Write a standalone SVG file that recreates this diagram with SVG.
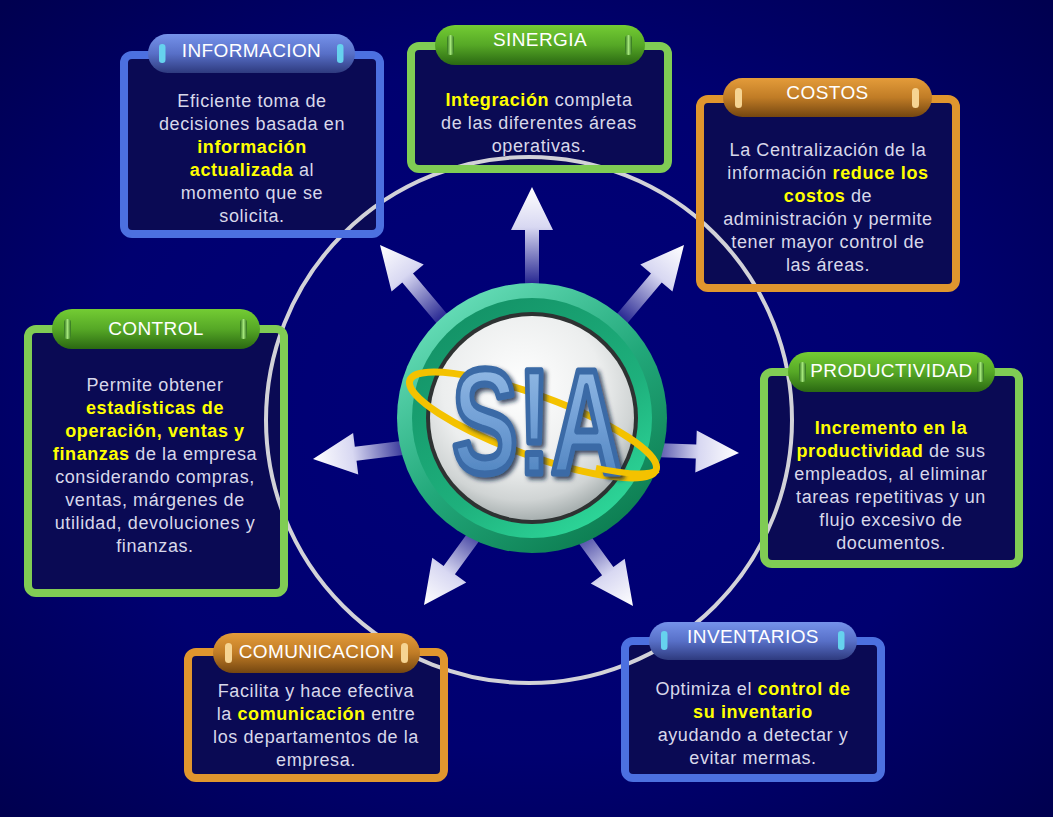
<svg xmlns="http://www.w3.org/2000/svg" width="1053" height="817" viewBox="0 0 1053 817">
<defs>
<radialGradient id="bg" cx="50%" cy="50%" r="70%">
<stop offset="0" stop-color="#00007a"/>
<stop offset="0.6" stop-color="#000070"/>
<stop offset="1" stop-color="#000050"/>
</radialGradient>
<linearGradient id="arrowG" x1="0" y1="0" x2="0" y2="1">
<stop offset="0" stop-color="#ffffff"/>
<stop offset="0.4" stop-color="#d8d8f2"/>
<stop offset="1" stop-color="#1c1c8c"/>
</linearGradient>
<linearGradient id="pillBlue" x1="0" y1="0" x2="0" y2="1">
<stop offset="0" stop-color="#7592ea"/>
<stop offset="0.5" stop-color="#5870c8"/>
<stop offset="1" stop-color="#2e3a7e"/>
</linearGradient>
<linearGradient id="pillGreen" x1="0" y1="0" x2="0" y2="1">
<stop offset="0" stop-color="#74cc34"/>
<stop offset="0.5" stop-color="#56a826"/>
<stop offset="1" stop-color="#2a6812"/>
</linearGradient>
<linearGradient id="pillOrange" x1="0" y1="0" x2="0" y2="1">
<stop offset="0" stop-color="#e49c3a"/>
<stop offset="0.5" stop-color="#c07c26"/>
<stop offset="1" stop-color="#744610"/>
</linearGradient>
<linearGradient id="markGreen" x1="0" y1="0" x2="1" y2="0">
<stop offset="0" stop-color="#2c7018"/>
<stop offset="0.5" stop-color="#a4e67a"/>
<stop offset="1" stop-color="#2c7018"/>
</linearGradient>
<linearGradient id="ringOuter" x1="0.2" y1="0.1" x2="0.8" y2="0.95">
<stop offset="0" stop-color="#62dab4"/>
<stop offset="0.5" stop-color="#22a87a"/>
<stop offset="1" stop-color="#0c7c50"/>
</linearGradient>
<linearGradient id="ringInner" x1="0.2" y1="0.1" x2="0.8" y2="0.95">
<stop offset="0" stop-color="#149468"/>
<stop offset="0.6" stop-color="#1eb07c"/>
<stop offset="1" stop-color="#2ed89a"/>
</linearGradient>
<radialGradient id="disk" cx="45%" cy="35%" r="65%">
<stop offset="0" stop-color="#ffffff"/>
<stop offset="0.6" stop-color="#eceeee"/>
<stop offset="0.85" stop-color="#d0d4d4"/>
<stop offset="1" stop-color="#a8b0b0"/>
</radialGradient>
<linearGradient id="letterG" x1="0" y1="0" x2="0" y2="1">
<stop offset="0" stop-color="#a0c4ea"/>
<stop offset="0.5" stop-color="#72a0d6"/>
<stop offset="1" stop-color="#4278b6"/>
</linearGradient>
<filter id="shadow" x="-10%" y="-10%" width="130%" height="130%">
<feDropShadow dx="3" dy="3" stdDeviation="2" flood-color="#102040" flood-opacity="0.8"/>
</filter>
<path id="arr" d="M0,0 L21,43 L7,43 L7,100 L-7,100 L-7,43 L-21,43 Z"/>
</defs>
<style>
.box{fill:#0a0a54}
.bdB{fill:none;stroke:#4c70e0;stroke-width:8}
.bdG{fill:none;stroke:#80cc54;stroke-width:8}
.bdO{fill:none;stroke:#e0962e;stroke-width:8}
.ttl{font-family:"Liberation Sans",Arial,sans-serif;font-size:19px;letter-spacing:0.4px;fill:#ffffff;text-anchor:middle}
.bd{font-family:"Liberation Sans",Arial,sans-serif;font-size:18px;letter-spacing:0.6px;fill:#d8d8ea;text-anchor:middle}
.hl{fill:#ffff00;font-weight:bold}
.mB{fill:#66d2ee}
.mG{fill:url(#markGreen)}
.mO{fill:#f6d492}
.arrow{fill:url(#arrowG)}
</style>
<rect x="0" y="0" width="1053" height="817" fill="url(#bg)"/>

<g id="fills">
<rect class="box" x="124" y="55" width="256" height="179" rx="8"/>
<rect class="box" x="411" y="46" width="257" height="123" rx="8"/>
<rect class="box" x="700" y="99" width="256" height="189" rx="8"/>
<rect class="box" x="764" y="372" width="255" height="192" rx="8"/>
<rect class="box" x="625" y="641" width="256" height="137" rx="8"/>
<rect class="box" x="188" y="652" width="256" height="126" rx="8"/>
<rect class="box" x="28" y="329" width="256" height="264" rx="8"/>
</g>

<circle id="orbit" cx="529" cy="420" r="263" fill="none" stroke="#d2d2d8" stroke-width="4"/>

<g id="connectors">
<use href="#arr" class="arrow" transform="translate(532,187)"/>
<use href="#arr" class="arrow" transform="translate(380,245) rotate(-40)"/>
<use href="#arr" class="arrow" transform="translate(684,245) rotate(40)"/>
<use href="#arr" class="arrow" transform="translate(313,459) rotate(-97)"/>
<use href="#arr" class="arrow" transform="translate(739,453) rotate(92)"/>
<use href="#arr" class="arrow" transform="translate(424,605) rotate(-144)"/>
<use href="#arr" class="arrow" transform="translate(633,606) rotate(144)"/>
</g>

<g id="logo">
<circle cx="532" cy="418" r="135" fill="url(#ringOuter)"/>
<circle cx="532" cy="418" r="120" fill="url(#ringInner)"/>
<circle cx="532" cy="418" r="106" fill="#2e3232"/>
<circle cx="532" cy="418" r="102" fill="url(#disk)"/>
<ellipse cx="533" cy="425" rx="131" ry="30" transform="rotate(20 533 425)" fill="none" stroke="#f4c200" stroke-width="7"/>
<text x="452" y="473" font-family="'Liberation Sans',Arial,sans-serif" font-weight="bold" font-size="148" textLength="170" lengthAdjust="spacingAndGlyphs" fill="url(#letterG)" stroke="#3a6aa6" stroke-width="7" stroke-linejoin="round" filter="url(#shadow)">S!A</text>
<path d="M596,468 A131,30 20 0 0 658,470" fill="none" stroke="#f4c200" stroke-width="6"/>
</g>

<g id="informacion">
<rect class="bdB" x="124" y="55" width="256" height="179" rx="8"/>
<rect x="148" y="34" width="207" height="39" rx="19.5" fill="url(#pillBlue)"/>
<rect class="mB" x="159" y="44" width="6.5" height="19" rx="3.2"/>
<rect class="mB" x="337" y="44" width="6.5" height="19" rx="3.2"/>
<text class="ttl" x="251.5" y="57">INFORMACION</text>
<text class="bd" x="252" y="107">Eficiente toma de</text>
<text class="bd" x="252" y="130">decisiones basada en</text>
<text class="bd" x="252" y="153"><tspan class="hl">información</tspan></text>
<text class="bd" x="252" y="176"><tspan class="hl">actualizada</tspan> al</text>
<text class="bd" x="252" y="199">momento que se</text>
<text class="bd" x="252" y="222">solicita.</text>
</g>

<g id="sinergia">
<rect class="bdG" x="411" y="46" width="257" height="123" rx="8"/>
<rect x="435" y="25" width="210" height="40" rx="20" fill="url(#pillGreen)"/>
<rect class="mG" x="447" y="35" width="7" height="20" rx="3.5"/>
<rect class="mG" x="625" y="35" width="7" height="20" rx="3.5"/>
<text class="ttl" x="540" y="46">SINERGIA</text>
<text class="bd" x="539" y="106"><tspan class="hl">Integración</tspan> completa</text>
<text class="bd" x="539" y="129">de las diferentes áreas</text>
<text class="bd" x="539" y="152">operativas.</text>
</g>

<g id="costos">
<rect class="bdO" x="700" y="99" width="256" height="189" rx="8"/>
<rect x="723" y="78" width="209" height="39" rx="19.5" fill="url(#pillOrange)"/>
<rect class="mO" x="735" y="88" width="7" height="20" rx="3.5"/>
<rect class="mO" x="912" y="88" width="7" height="20" rx="3.5"/>
<text class="ttl" x="827.5" y="99">COSTOS</text>
<text class="bd" x="828" y="156">La Centralización de la</text>
<text class="bd" x="828" y="179">información <tspan class="hl">reduce los</tspan></text>
<text class="bd" x="828" y="202"><tspan class="hl">costos</tspan> de</text>
<text class="bd" x="828" y="225">administración y permite</text>
<text class="bd" x="828" y="248">tener mayor control de</text>
<text class="bd" x="828" y="271">las áreas.</text>
</g>

<g id="productividad">
<rect class="bdG" x="764" y="372" width="255" height="192" rx="8"/>
<rect x="788" y="352" width="207" height="40" rx="20" fill="url(#pillGreen)"/>
<rect class="mG" x="799" y="362" width="7" height="20" rx="3.5"/>
<rect class="mG" x="977" y="362" width="7" height="20" rx="3.5"/>
<text class="ttl" x="891.5" y="377">PRODUCTIVIDAD</text>
<text class="bd" x="891" y="434"><tspan class="hl">Incremento en la</tspan></text>
<text class="bd" x="891" y="457"><tspan class="hl">productividad</tspan> de sus</text>
<text class="bd" x="891" y="480">empleados, al eliminar</text>
<text class="bd" x="891" y="503">tareas repetitivas y un</text>
<text class="bd" x="891" y="526">flujo excesivo de</text>
<text class="bd" x="891" y="549">documentos.</text>
</g>

<g id="inventarios">
<rect class="bdB" x="625" y="641" width="256" height="137" rx="8"/>
<rect x="649" y="622" width="208" height="38" rx="19" fill="url(#pillBlue)"/>
<rect class="mB" x="661" y="631" width="6.5" height="19" rx="3.2"/>
<rect class="mB" x="838" y="631" width="6.5" height="19" rx="3.2"/>
<text class="ttl" x="753" y="643">INVENTARIOS</text>
<text class="bd" x="753" y="695">Optimiza el <tspan class="hl">control de</tspan></text>
<text class="bd" x="753" y="718"><tspan class="hl">su inventario</tspan></text>
<text class="bd" x="753" y="741">ayudando a detectar y</text>
<text class="bd" x="753" y="764">evitar mermas.</text>
</g>

<g id="comunicacion">
<rect class="bdO" x="188" y="652" width="256" height="126" rx="8"/>
<rect x="213" y="633" width="207" height="40" rx="20" fill="url(#pillOrange)"/>
<rect class="mO" x="225" y="643" width="7" height="20" rx="3.5"/>
<rect class="mO" x="401" y="643" width="7" height="20" rx="3.5"/>
<text class="ttl" x="316.5" y="658">COMUNICACION</text>
<text class="bd" x="316" y="697">Facilita y hace efectiva</text>
<text class="bd" x="316" y="720">la <tspan class="hl">comunicación</tspan> entre</text>
<text class="bd" x="316" y="743">los departamentos de la</text>
<text class="bd" x="316" y="766">empresa.</text>
</g>

<g id="control">
<rect class="bdG" x="28" y="329" width="256" height="264" rx="8"/>
<rect x="52" y="309" width="208" height="40" rx="20" fill="url(#pillGreen)"/>
<rect class="mG" x="64" y="319" width="7" height="20" rx="3.5"/>
<rect class="mG" x="240" y="319" width="7" height="20" rx="3.5"/>
<text class="ttl" x="156" y="335">CONTROL</text>
<text class="bd" x="155" y="391">Permite obtener</text>
<text class="bd" x="155" y="414"><tspan class="hl">estadísticas de</tspan></text>
<text class="bd" x="155" y="437"><tspan class="hl">operación, ventas y</tspan></text>
<text class="bd" x="155" y="460"><tspan class="hl">finanzas</tspan> de la empresa</text>
<text class="bd" x="155" y="483">considerando compras,</text>
<text class="bd" x="155" y="506">ventas, márgenes de</text>
<text class="bd" x="155" y="529">utilidad, devoluciones y</text>
<text class="bd" x="155" y="552">finanzas.</text>
</g>
</svg>
